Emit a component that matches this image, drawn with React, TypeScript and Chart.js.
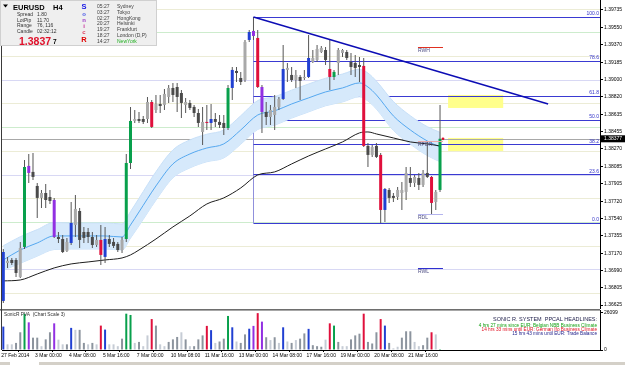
import React, { useEffect, useRef } from "react";
import { Chart, registerables } from "chart.js";
Chart.register(...registerables);

// ---------- DATA ----------
const opens = [1.36668,1.37068,1.37100,1.37100,1.36921,1.37237,1.38091,1.38028,1.37880,1.37754,
 1.37806,1.37764,1.37732,1.37342,1.37321,1.37195,1.37279,1.37469,1.37616,1.37395,
 1.37395,1.37342,1.37258,1.37311,1.37132,1.37321,1.37290,1.37269,1.37205,1.37321,
 1.38122,1.38565,1.38586,1.38586,1.38586,1.38765,1.38681,1.38744,1.38734,1.38818,
 1.38913,1.38923,1.38860,1.38734,1.38755,1.38713,1.38649,1.38449,1.38555,1.38544,
 1.38586,1.38555,1.38544,1.38491,1.38913,1.39092,1.39018,1.38997,1.39419,1.39514,
 1.39440,1.38923,1.38660,1.38607,1.38628,1.38713,1.38797,1.39103,1.39050,1.38997,
 1.39029,1.39018,1.39029,1.39187,1.39208,1.39292,1.39313,1.39113,1.39029,1.39176,
 1.39282,1.39292,1.39187,1.39176,1.39155,1.39145,1.38302,1.38207,1.38302,1.38207,
 1.37627,1.37838,1.37775,1.37764,1.37806,1.37817,1.37964,1.37912,1.37964,1.37891,
 1.38017,1.37975,1.37711,1.37838];
const highs = [1.37216,1.37132,1.37121,1.37121,1.37290,1.38154,1.38217,1.38228,1.37912,1.37838,
 1.37901,1.37838,1.37754,1.37395,1.37364,1.37332,1.37711,1.37785,1.37648,1.37448,
 1.37437,1.37395,1.37364,1.37469,1.37448,1.37364,1.37332,1.37290,1.37342,1.38217,
 1.38713,1.38681,1.38660,1.38618,1.38818,1.38786,1.38839,1.38839,1.38902,1.38945,
 1.38966,1.38966,1.38892,1.38808,1.38786,1.38734,1.38692,1.38713,1.38734,1.38744,
 1.38649,1.38628,1.38628,1.38945,1.39134,1.39134,1.39082,1.39419,1.39524,1.39661,
 1.39524,1.38945,1.38765,1.38734,1.38839,1.38818,1.39366,1.39176,1.39134,1.39103,
 1.39050,1.39103,1.39472,1.39313,1.39366,1.39356,1.39345,1.39419,1.39103,1.39335,
 1.39324,1.39313,1.39282,1.39261,1.39240,1.39229,1.38333,1.38312,1.38333,1.38228,
 1.37859,1.37859,1.37806,1.37869,1.37922,1.38080,1.38080,1.37996,1.38017,1.38049,
 1.38344,1.37985,1.37838,1.38733];
const lows = [1.36647,1.37016,1.37047,1.36921,1.36910,1.37216,1.37912,1.37943,1.37543,1.37648,
 1.37648,1.37690,1.37332,1.37279,1.37174,1.37184,1.37258,1.37342,1.37227,1.37279,
 1.37279,1.37227,1.37237,1.37047,1.37068,1.37237,1.37227,1.37184,1.37174,1.37290,
 1.38059,1.38544,1.38544,1.38533,1.38544,1.38491,1.38649,1.38649,1.38681,1.38755,
 1.38765,1.38660,1.38597,1.38649,1.38681,1.38607,1.38502,1.38312,1.38470,1.38470,
 1.38502,1.38491,1.38418,1.38470,1.38786,1.38976,1.38945,1.38976,1.39398,1.39419,
 1.38913,1.38439,1.38523,1.38523,1.38470,1.38681,1.38786,1.38976,1.38976,1.38913,
 1.38786,1.38997,1.39018,1.39176,1.39187,1.39282,1.39155,1.38892,1.38997,1.39050,
 1.39240,1.39208,1.39050,1.39029,1.38976,1.38291,1.38080,1.38186,1.38175,1.37490,
 1.37500,1.37701,1.37711,1.37732,1.37627,1.37732,1.37869,1.37869,1.37838,1.37869,
 1.37964,1.37574,1.37627,1.37817];
const closes = [1.37184,1.37090,1.37068,1.36963,1.37227,1.38080,1.38017,1.37975,1.37754,1.37806,
 1.37732,1.37722,1.37342,1.37321,1.37184,1.37290,1.37490,1.37638,1.37311,1.37332,
 1.37342,1.37258,1.37311,1.37153,1.37321,1.37269,1.37248,1.37205,1.37311,1.38122,
 1.38565,1.38586,1.38565,1.38555,1.38765,1.38502,1.38744,1.38723,1.38850,1.38913,
 1.38839,1.38818,1.38755,1.38765,1.38702,1.38649,1.38544,1.38555,1.38544,1.38586,
 1.38555,1.38523,1.38491,1.38913,1.39103,1.39071,1.38976,1.39398,1.39503,1.39461,
 1.38923,1.38660,1.38607,1.38681,1.38713,1.38797,1.39113,1.39124,1.38997,1.39050,
 1.38987,1.39029,1.39229,1.39229,1.39324,1.39335,1.39208,1.39029,1.39082,1.39313,
 1.39313,1.39229,1.39134,1.39124,1.39134,1.38302,1.38207,1.38291,1.38186,1.37627,
 1.37848,1.37754,1.37754,1.37838,1.37838,1.38017,1.37912,1.37975,1.37891,1.38017,
 1.37975,1.37701,1.37817,1.38377];
const volumes = [16500,4000,4000,5000,12500,25500,19500,8700,8700,2700,
 7500,12500,18800,7300,4000,4000,15600,14200,14200,5000,
 4000,5000,4000,17200,14400,4000,4000,2700,8000,25600,
 24700,5000,5700,2700,10300,21800,17200,4000,2700,5700,
 7500,9200,12500,7500,2700,2700,7500,10300,17000,14000,
 5000,6000,8000,24000,16000,6000,5000,11000,15000,17000,
 26000,20000,9000,7000,9000,5000,16000,6000,5000,7000,
 8000,11700,14900,3400,2700,2300,7300,18800,17200,5700,
 2700,2700,7500,10300,11500,25600,5700,4600,12500,21800,
 17200,5000,1200,2300,8700,13200,13200,5700,2700,3400,
 8700,12500,11000,600];
// PVA class per bar: b blue, g green, r red, p purple, l light normal, d dark normal
const pva = "bllddgpddl" + "ddplldbldd" + "ldlrbllldg" + "gldllrdlld" + "ddldldddrb" +
  "lddgblddbp" + "rpdldlbldl" + "ddbdddlrgd" + "lldddrdddr" + "bdlldddlld" + "drlg";

const xLabels = ["27 Feb 2014","3 Mar 00:00","4 Mar 08:00","5 Mar 16:00","7 Mar 00:00","10 Mar 08:00",
  "11 Mar 16:00","13 Mar 00:00","14 Mar 08:00","17 Mar 16:00","19 Mar 00:00","20 Mar 08:00","21 Mar 16:00"];
const priceTicks = [1.39735,1.39550,1.39370,1.39185,1.39000,1.38820,1.38635,1.38455,1.38270,1.38085,
  1.37905,1.37720,1.37540,1.37355,1.37170,1.36990,1.36805,1.36625];
const bidPrice = 1.38377;
const volTicks = [0, 26099];

const emaIdx = [0,4,8,12,16,20,24,28,30,32,36,40,44,48,52,56,60,64,68,72,76,80,84,86,88,92,96,100,103];
const emaMid = [1.37100,1.37205,1.37279,1.37353,1.37353,1.37353,1.37353,1.37342,1.37469,1.37606,1.37880,1.38112,1.38217,1.38280,1.38323,1.38470,1.38628,1.38671,1.38744,1.38808,1.38871,1.38913,1.38966,1.38923,1.38839,1.38618,1.38470,1.38354,1.38291];
const emaUpper = [1.37250,1.37345,1.37420,1.37495,1.37490,1.37490,1.37490,1.37480,1.37610,1.37750,1.38030,1.38260,1.38365,1.38425,1.38470,1.38620,1.38780,1.38820,1.38890,1.38955,1.39015,1.39060,1.39110,1.39070,1.38985,1.38770,1.38620,1.38505,1.38445];
const emaLower = [1.36990,1.37065,1.37140,1.37210,1.37215,1.37215,1.37215,1.37205,1.37330,1.37460,1.37730,1.37965,1.38070,1.38135,1.38175,1.38320,1.38475,1.38520,1.38595,1.38660,1.38725,1.38765,1.38820,1.38775,1.38690,1.38465,1.38320,1.38200,1.38135];
const ema89 = [1.36879,1.36889,1.36952,1.37016,1.37058,1.37079,1.37100,1.37121,1.37153,1.37205,1.37321,1.37448,1.37564,1.37690,1.37754,1.37859,1.37996,1.38028,1.38112,1.38196,1.38270,1.38344,1.38439,1.38449,1.38428,1.38386,1.38344,1.38323,1.38302];

const roundLevels = [1.3975,1.3950,1.3925,1.3900,1.3875,1.3850,1.3825,1.3800,1.3775,1.3750,1.3725,1.3700,1.3675];
const fibBar = 59;
const fibHigh = 1.39661;
const fibLow = 1.37490;
const fibRatios = [100.0, 78.6, 61.8, 50.0, 38.2, 23.6, 0.0];
const trendStart = { x: 59, y: 1.39661 };
const trendEnd = { x: 128.5, y: 1.38744 };
const zoneX = [104.9, 117.9];
const zoneTops = [1.38839, 1.38386];
const zoneBottoms = [1.38702, 1.38249];
const markerNames = ["RWH", "RPDH", "RDL", "RWL"];
const markerPrices = [1.39345, 1.38354, 1.37585, 1.37016];
const markerX = [97.8, 103.7];
const sessionTimes = ["05:27","03:27","02:27","20:27","19:27","18:27","14:27"];
const sessionCities = ["Sydney","Tokyo","HongKong","Helsinki","Frankfurt","London (D,P)","NewYork"];
const headlines = [
  "4 hrs 27 mins since EUR: Belgian NBB Business Climate",
  "14 hrs 33 mins until EUR: German Ifo Business Climate",
  "15 hrs 43 mins until EUR: Trade Balance",
];

// ---------- VIEW ----------
const X_MIN = -0.31;
const X_MAX = 140.73;
const P_MIN = 1.36583;
const P_MAX = 1.39840;
const V_MAX = 28200;
const FONT = '"Liberation Sans", Arial, sans-serif';

const PVA_COL: Record<string, string> = { b: "#2140d2", g: "#08a04c", r: "#e0103c", p: "#9230e2" };

export default function App() {
  const mainRef = useRef<HTMLCanvasElement>(null);
  const volRef = useRef<HTMLCanvasElement>(null);

  useEffect(() => {
    document.body.style.margin = "0";
    const idx = opens.map((_, i) => i);
    const bodyColors = idx.map((i) => {
      const k = pva[i];
      if (PVA_COL[k]) return PVA_COL[k];
      return closes[i] >= opens[i] ? "#a9a9a9" : "#4a4a4a";
    });
    const volColors = idx.map((i) => {
      const k = pva[i];
      if (PVA_COL[k]) return PVA_COL[k];
      return k === "l" ? "#c6ccd5" : "#8c949e";
    });
    const pts = (arr: number[]) => arr.map((v, j) => ({ x: emaIdx[j], y: v }));

    const mainPlugin = {
      id: "mainOverlay",
      beforeDatasetsDraw(chart: any) {
        const { ctx, chartArea: ca, scales } = chart;
        const X = (v: number) => scales.x.getPixelForValue(v);
        const Y = (v: number) => scales.y.getPixelForValue(v);
        ctx.save();
        ctx.beginPath();
        ctx.rect(ca.left, ca.top, ca.right - ca.left, ca.bottom - ca.top);
        ctx.clip();
        ctx.lineWidth = 1;
        roundLevels.forEach((p) => {
          const pip = Math.round(p * 10000) % 100;
          ctx.strokeStyle = pip === 0 ? "#d8d8f4" : pip === 50 ? "#cdeccd" : "#ececd6";
          const y = Math.round(Y(p)) + 0.5;
          ctx.beginPath(); ctx.moveTo(ca.left, y); ctx.lineTo(ca.right, y); ctx.stroke();
        });
        ctx.fillStyle = "#ffff8c";
        zoneTops.forEach((t, k) => {
          const x1 = X(zoneX[0]), x2 = X(zoneX[1]);
          ctx.fillRect(x1, Y(t), x2 - x1, Y(zoneBottoms[k]) - Y(t));
        });
        ctx.strokeStyle = "#a8a8a8";
        const by = Math.round(Y(bidPrice)) + 0.5;
        ctx.beginPath(); ctx.moveTo(ca.left, by); ctx.lineTo(ca.right, by); ctx.stroke();
        const fx = X(fibBar);
        ctx.strokeStyle = "#9090dc";
        ctx.beginPath(); ctx.moveTo(Math.round(fx) + 0.5, Y(fibHigh)); ctx.lineTo(Math.round(fx) + 0.5, Y(fibLow)); ctx.stroke();
        ctx.strokeStyle = "#3a3ad2";
        fibRatios.forEach((r) => {
          const p = fibLow + (r / 100) * (fibHigh - fibLow);
          const y = Math.round(Y(p)) + 0.5;
          ctx.beginPath(); ctx.moveTo(fx, y); ctx.lineTo(ca.right, y); ctx.stroke();
        });
        ctx.restore();
      },
      afterDatasetsDraw(chart: any) {
        const { ctx, chartArea: ca, scales } = chart;
        const X = (v: number) => scales.x.getPixelForValue(v);
        const Y = (v: number) => scales.y.getPixelForValue(v);
        ctx.save();
        ctx.strokeStyle = "#0c0cb4";
        ctx.lineWidth = 1.4;
        ctx.beginPath(); ctx.moveTo(X(trendStart.x), Y(trendStart.y)); ctx.lineTo(X(trendEnd.x), Y(trendEnd.y)); ctx.stroke();
        ctx.font = `5px ${FONT}`;
        ctx.fillStyle = "#3030c8";
        ctx.textAlign = "right";
        ctx.textBaseline = "bottom";
        fibRatios.forEach((r) => {
          const p = fibLow + (r / 100) * (fibHigh - fibLow);
          ctx.fillText(r.toFixed(1), ca.right - 1, Y(p) - 0.5);
        });
        const mColors = ["#e03020", "#e8aaaa", "#b4b4ee", "#3030d0"];
        ctx.lineWidth = 1;
        markerNames.forEach((nm, k) => {
          const y = Math.round(Y(markerPrices[k])) + 0.5;
          ctx.strokeStyle = mColors[k];
          ctx.beginPath(); ctx.moveTo(X(markerX[0]), y); ctx.lineTo(X(markerX[1]), y); ctx.stroke();
          ctx.fillStyle = "#4a4a80";
          ctx.textAlign = "left";
          ctx.textBaseline = "top";
          ctx.fillText(nm, X(markerX[0]), y + 1);
        });
        ctx.fillStyle = "#e01030";
        ctx.beginPath(); ctx.arc(X(103.7), Y(bidPrice), 1.4, 0, Math.PI * 2); ctx.fill();
        ctx.restore();
      },
      afterDraw(chart: any) {
        const { ctx, chartArea: ca, scales } = chart;
        const Y = (v: number) => scales.y.getPixelForValue(v);
        ctx.save();
        ctx.strokeStyle = "#3a3a3a"; ctx.lineWidth = 1;
        ctx.beginPath(); ctx.moveTo(1.5, 0); ctx.lineTo(1.5, ca.bottom); ctx.stroke();
        const by = Y(bidPrice);
        ctx.fillStyle = "#000";
        ctx.fillRect(ca.right + 1, by - 3.5, 24, 7);
        ctx.fillStyle = "#fff";
        ctx.font = `5px ${FONT}`;
        ctx.textAlign = "left"; ctx.textBaseline = "middle";
        ctx.fillText(bidPrice.toFixed(5), ca.right + 4, by);
        ctx.fillStyle = "#efefef";
        ctx.fillRect(0, 0, 157, 46);
        ctx.strokeStyle = "#d0d0d0";
        ctx.strokeRect(0.5, 0.5, 156, 45);
        ctx.fillStyle = "#000";
        ctx.beginPath(); ctx.moveTo(3, 4.5); ctx.lineTo(8, 4.5); ctx.lineTo(5.5, 7.5); ctx.closePath(); ctx.fill();
        ctx.textBaseline = "middle"; ctx.textAlign = "left";
        ctx.font = `bold 7.5px ${FONT}`;
        ctx.fillText("EURUSD", 13, 7.5);
        ctx.fillText("H4", 53, 7.5);
        ctx.font = `5px ${FONT}`;
        ctx.fillStyle = "#333";
        const infoL = ["Spread", "LotPip", "Range", "Candle"];
        const infoV = ["1.80", "11.70", "76, 116", "02:32:12"];
        infoL.forEach((t, k) => {
          ctx.fillText(t, 17, 15 + k * 5.4);
          ctx.fillText(infoV[k], 37, 15 + k * 5.4);
        });
        ctx.textBaseline = "alphabetic";
        ctx.font = `bold 10.5px ${FONT}`;
        ctx.fillStyle = "#e0102a";
        ctx.fillText("1.3837", 19, 44.5);
        ctx.font = `bold 6.5px ${FONT}`;
        ctx.fillStyle = "#000";
        ctx.fillText("7", 53, 44);
        ctx.textAlign = "center"; ctx.textBaseline = "middle";
        const letters = ["S", "o", "n", "i", "c", "R"];
        const lcol = ["#1414e6", "#4a5ae8", "#a040c8", "#c8309a", "#e04462", "#e00000"];
        const ly = [7, 14.5, 20.5, 26.5, 32.5, 40];
        letters.forEach((l, k) => {
          ctx.font = (k === 0 || k === 5) ? `bold 7.5px ${FONT}` : `bold 6px ${FONT}`;
          ctx.fillStyle = lcol[k];
          ctx.fillText(l, 84, ly[k]);
        });
        ctx.textAlign = "left";
        ctx.font = `5px ${FONT}`;
        sessionTimes.forEach((t, k) => {
          const y = 6.7 + k * 5.8;
          ctx.fillStyle = "#404040";
          ctx.fillText(t, 97, y);
          ctx.fillStyle = k === 6 ? "#22b022" : "#404040";
          ctx.fillText(sessionCities[k], 117, y);
        });
        ctx.restore();
      },
    };

    const main = new Chart(mainRef.current as HTMLCanvasElement, {
      type: "bar",
      data: {
        datasets: [
          { type: "line", data: pts(emaUpper), borderColor: "#c8e0f8", borderWidth: 1, backgroundColor: "#d6e9fb", fill: "+1", pointRadius: 0, cubicInterpolationMode: "monotone", order: 6 } as any,
          { type: "line", data: pts(emaLower), borderColor: "#c8e0f8", borderWidth: 1, fill: false, pointRadius: 0, cubicInterpolationMode: "monotone", order: 6 } as any,
          { type: "line", data: pts(emaMid), borderColor: "#55a8f0", borderWidth: 1, fill: false, pointRadius: 0, cubicInterpolationMode: "monotone", order: 5 } as any,
          { type: "line", data: pts(ema89), borderColor: "#1e1e1e", borderWidth: 1, fill: false, pointRadius: 0, cubicInterpolationMode: "monotone", order: 4 } as any,
          { type: "bar", data: idx.map((i) => ({ x: i, y: [lows[i], highs[i]] })), backgroundColor: "#565656", barThickness: 1, grouped: false, inflateAmount: 0, order: 2 } as any,
          { type: "bar", data: idx.map((i) => ({ x: i, y: [opens[i], closes[i]] })), backgroundColor: bodyColors, barThickness: 3, grouped: false, inflateAmount: 0, minBarLength: 1, order: 1 } as any,
        ],
      },
      options: {
        responsive: false,
        animation: false,
        devicePixelRatio: 1,
        events: [],
        layout: { padding: { left: 2, right: 0, top: 0, bottom: 0 } },
        plugins: { legend: { display: false }, tooltip: { enabled: false } },
        scales: {
          x: { type: "linear", min: X_MIN, max: X_MAX, display: false, offset: false },
          y: {
            type: "linear", position: "right", min: P_MIN, max: P_MAX,
            afterBuildTicks: (s: any) => { s.ticks = priceTicks.map((v) => ({ value: v })); },
            afterFit: (s: any) => { s.width = 25; s.paddingTop = 0; s.paddingBottom = 0; },
            ticks: { autoSkip: false, font: { size: 5, family: FONT }, color: "#000", padding: 1, callback: (v: any) => Number(v).toFixed(5) },
            grid: { display: true, drawOnChartArea: false, drawTicks: true, tickLength: 3, color: "#000" },
            border: { display: true, color: "#000" },
          },
        },
      } as any,
      plugins: [mainPlugin],
    });

    const volPlugin = {
      id: "volOverlay",
      afterDraw(chart: any) {
        const { ctx, chartArea: ca } = chart;
        ctx.save();
        ctx.fillStyle = "#6e6e6e";
        ctx.fillRect(0, 0, ca.right, 1.6);
        ctx.strokeStyle = "#3a3a3a"; ctx.lineWidth = 1;
        ctx.beginPath(); ctx.moveTo(1.5, 0); ctx.lineTo(1.5, ca.bottom); ctx.stroke();
        ctx.fillStyle = "#303030";
        ctx.font = `4.8px ${FONT}`;
        ctx.textAlign = "left"; ctx.textBaseline = "middle";
        ctx.fillText("SonicR PVA  (Chart Scale 3)", 4, 6);
        ctx.textAlign = "right";
        ctx.font = `5.5px ${FONT}`;
        ctx.fillStyle = "#1c1c48";
        ctx.fillText("SONIC R. SYSTEM  PPCAL HEADLINES:", 597, 10);
        const hc = ["#12a012", "#e01020", "#1c1c88"];
        ctx.font = `4.7px ${FONT}`;
        headlines.forEach((h, k) => {
          ctx.fillStyle = hc[k];
          ctx.fillText(h, 597, 16.8 + k * 3.8);
        });
        ctx.fillStyle = "#d4d0c8";
        ctx.fillRect(0, 53, 625, 3);
        ctx.fillStyle = "#ffffff";
        ctx.fillRect(10, 53, 29, 3);
        ctx.restore();
      },
    };

    const vol = new Chart(volRef.current as HTMLCanvasElement, {
      type: "bar",
      data: {
        datasets: [
          { type: "bar", data: idx.map((i) => ({ x: i, y: volumes[i] })), backgroundColor: volColors, barThickness: 2, grouped: false, inflateAmount: 0 } as any,
        ],
      },
      options: {
        responsive: false,
        animation: false,
        devicePixelRatio: 1,
        events: [],
        layout: { padding: { left: 2, right: 0, top: 1, bottom: 0 } },
        plugins: { legend: { display: false }, tooltip: { enabled: false } },
        scales: {
          x: {
            type: "linear", min: X_MIN, max: X_MAX, offset: false,
            afterBuildTicks: (s: any) => { s.ticks = xLabels.map((_, k) => ({ value: k * 8 - 0.5 })); },
            afterFit: (s: any) => { s.height = 15; s.paddingLeft = 0; s.paddingRight = 0; },
            ticks: { autoSkip: false, maxRotation: 0, minRotation: 0, align: "start", font: { size: 5, family: FONT }, color: "#000", padding: 1, callback: (_v: any, i: number) => xLabels[i] },
            grid: { display: true, drawOnChartArea: false, drawTicks: true, tickLength: 2, color: "#000" },
            border: { display: true, color: "#000" },
          },
          y: {
            type: "linear", position: "right", min: 0, max: V_MAX,
            afterBuildTicks: (s: any) => { s.ticks = volTicks.map((v) => ({ value: v })); },
            afterFit: (s: any) => { s.width = 25; s.paddingTop = 0; s.paddingBottom = 0; },
            ticks: { autoSkip: false, font: { size: 5, family: FONT }, color: "#000", padding: 1, callback: (v: any) => String(Math.round(Number(v))) },
            grid: { display: true, drawOnChartArea: false, drawTicks: true, tickLength: 3, color: "#000" },
            border: { display: true, color: "#000" },
          },
        },
      } as any,
      plugins: [volPlugin],
    });

    return () => { main.destroy(); vol.destroy(); };
  }, []);

  return (
    <div style={{ position: "relative", width: 625, height: 365, background: "#fff", overflow: "hidden" }}>
      <canvas ref={mainRef} width={625} height={309} style={{ position: "absolute", left: 0, top: 0, width: 625, height: 309 }} />
      <canvas ref={volRef} width={625} height={56} style={{ position: "absolute", left: 0, top: 309, width: 625, height: 56 }} />
    </div>
  );
}
